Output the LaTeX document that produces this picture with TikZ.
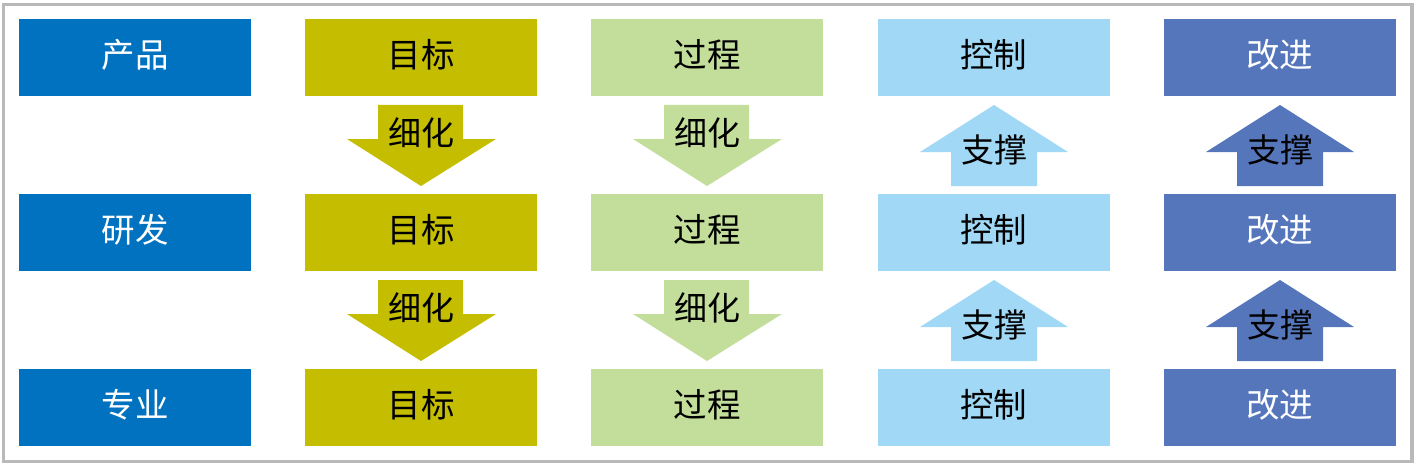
\documentclass[tikz,border=0pt]{standalone}
\usepackage{fontspec}
\newfontfamily\cjk{Noto Sans CJK SC}
\definecolor{cprod}{RGB}{0,114,192}
\definecolor{cgoal}{RGB}{196,189,0}
\definecolor{cproc}{RGB}{195,222,155}
\definecolor{cctrl}{RGB}{160,216,245}
\definecolor{cimpr}{RGB}{86,118,188}
\definecolor{cframe}{RGB}{185,185,185}
\tikzset{
  cell/.style={minimum width=232pt,minimum height=77pt,inner sep=0pt},
  ctext/.style={inner sep=0pt,yshift=3pt,font=\cjk\fontsize{33.5}{33.5}\selectfont},
  lbl/.style={inner sep=0pt,font=\cjk\fontsize{33}{33}\selectfont,text=black}
}
\begin{document}
\begin{tikzpicture}[x=1pt,y=-1pt]
\useasboundingbox (0,0) rectangle (1418,468);
\draw[cframe,line width=3.2pt] (3.5,4.5) rectangle (1412,461.5);
% rows
\foreach \r/\cy/\ptxt in {1/57.5/产品,2/232.5/研发,3/407.5/专业}{
  \node[cell,fill=cprod] (p\r) at (135,\cy) {};
  \node[ctext,text=white] at (p\r) {\ptxt};
  \node[cell,fill=cgoal] (g\r) at (421,\cy) {};
  \node[ctext,text=black] at (g\r) {目标};
  \node[cell,fill=cproc] (c\r) at (707,\cy) {};
  \node[ctext,text=black] at (c\r) {过程};
  \node[cell,fill=cctrl] (k\r) at (993.5,\cy) {};
  \node[ctext,text=black] at (k\r) {控制};
  \node[cell,fill=cimpr] (m\r) at (1279.5,\cy) {};
  \node[ctext,text=white] at (m\r) {改进};
}
% arrows
\foreach \o/\s in {0/1,175/2}{
  \begin{scope}[yshift=-\o pt]
    \fill[cgoal] (378,105) -- (463,105) -- (463,139) -- (496,139) -- (421,186) -- (347,139) -- (378,139) -- cycle;
    \node[lbl] (dg\s) at (421,133) {细化};
    \fill[cproc] (664,105) -- (749,105) -- (749,139) -- (782,139) -- (707,186) -- (633,139) -- (664,139) -- cycle;
    \node[lbl] (dc\s) at (707,133) {细化};
    \fill[cctrl] (994,105) -- (1068,152) -- (1037,152) -- (1037,186) -- (951,186) -- (951,152) -- (920,152) -- cycle;
    \node[lbl] (uk\s) at (994,150) {支撑};
    \fill[cimpr] (1280,105) -- (1354,152) -- (1323,152) -- (1323,186) -- (1237,186) -- (1237,152) -- (1206,152) -- cycle;
    \node[lbl] (um\s) at (1280,150) {支撑};
  \end{scope}
}
\end{tikzpicture}
\end{document}
